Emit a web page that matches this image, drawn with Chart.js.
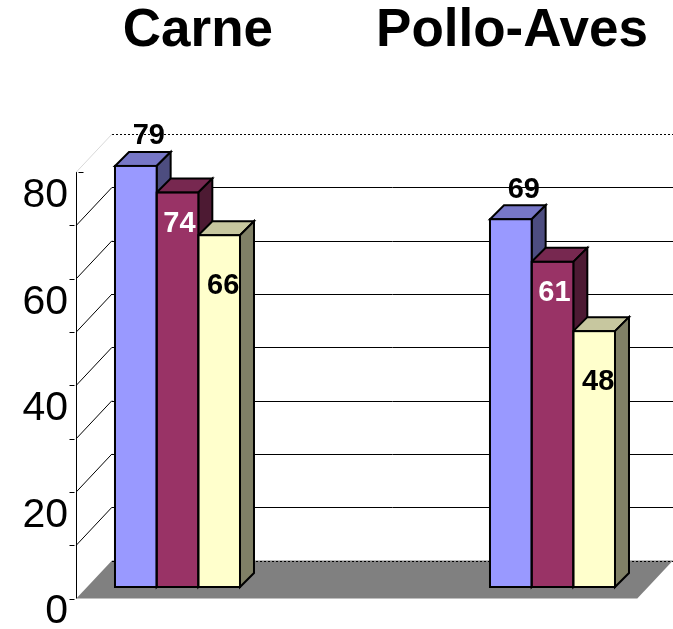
<!DOCTYPE html>
<html><head><meta charset="utf-8">
<script src="https://cdn.jsdelivr.net/npm/chart.js@4/dist/chart.umd.min.js"></script>
<style>html,body{margin:0;padding:0;background:#fff}</style>
</head><body>
<canvas id="c" width="673" height="629"></canvas>
<script>
// ---- data ----
const categories = ['Carne', 'Pollo-Aves'];
const seriesNames = ['Serie 1', 'Serie 2', 'Serie 3'];
const series1 = [79, 69];
const series2 = [74, 61];
const series3 = [66, 48];
const yMin = 0, yMax = 80, yLabelStep = 20, yGridStep = 10;

// ---- styles ----
const FONT = "'Liberation Sans', Arial, sans-serif";
const faces = [
  { front: '#9999FF', top: '#7777C7', side: '#4D4D80', label: '#000000', lx: 13, ly: -29.5 },
  { front: '#993366', top: '#772850', side: '#4D1A33', label: '#FFFFFF', lx: 2,  ly: 31 },
  { front: '#FFFFCC', top: '#C7C79F', side: '#808066', label: '#000000', lx: 4,  ly: 51 }
];
// oblique projection offsets relative to the bar front plane
const P = { fx: -10.7, fy: 11.5, bx: 25, by: -26.5, dx: 14, dy: -14 };

function poly(ctx, pts, fill) {
  ctx.beginPath();
  ctx.moveTo(pts[0][0], pts[0][1]);
  for (let i = 1; i < pts.length; i++) ctx.lineTo(pts[i][0], pts[i][1]);
  ctx.closePath();
  if (fill) { ctx.fillStyle = fill; ctx.fill(); }
  ctx.stroke();
}

const threeD = {
  id: 'threeD',
  beforeDatasetsDraw(chart) {
    const ctx = chart.ctx, y = chart.scales.y, a = chart.chartArea;
    const L = a.left, R = a.right;
    const y0 = y.getPixelForValue(yMin), yT = y.getPixelForValue(yMax);
    const ax = Math.round(L + P.fx) + 0.5;
    ctx.save();
    // floor
    ctx.fillStyle = '#808080';
    ctx.beginPath();
    ctx.moveTo(L + P.fx, y0 + P.fy);
    ctx.lineTo(R + P.fx, y0 + P.fy);
    ctx.lineTo(R + P.bx, y0 + P.by);
    ctx.lineTo(L + P.bx, y0 + P.by);
    ctx.closePath();
    ctx.fill();
    // back wall gridlines and left wall diagonals
    ctx.lineWidth = 1;
    for (let v = yMin; v <= yMax; v += yGridStep) {
      const py = y.getPixelForValue(v);
      const dotted = (v === yMin || v === yMax);
      ctx.strokeStyle = '#000';
      ctx.setLineDash(dotted ? [2, 2] : []);
      ctx.beginPath();
      ctx.moveTo(L + P.bx, Math.round(py + P.by) + 0.5);
      ctx.lineTo(R + P.bx, Math.round(py + P.by) + 0.5);
      ctx.stroke();
      ctx.setLineDash([]);
      if (v !== yMin) {
        ctx.strokeStyle = v === yMax ? '#d8d8d8' : '#000';
        ctx.beginPath();
        ctx.moveTo(L + P.fx, py + P.fy);
        ctx.lineTo(L + P.bx, py + P.by);
        ctx.stroke();
      }
      // tick mark on the front axis
      ctx.strokeStyle = '#000';
      ctx.beginPath();
      const ty = Math.round(py + P.fy) + 0.5;
      if (v === yMax) { ctx.moveTo(ax + 2, ty); ctx.lineTo(ax + 7, ty); }
      else { ctx.moveTo(ax - 7, ty); ctx.lineTo(ax - 2, ty); }
      ctx.stroke();
    }
    // front vertical axis
    ctx.strokeStyle = '#000';
    ctx.beginPath();
    ctx.moveTo(ax, yT + P.fy);
    ctx.lineTo(ax, y0 + P.fy);
    ctx.stroke();
    // bar tops and sides
    ctx.lineWidth = 2;
    ctx.lineJoin = 'miter';
    ctx.strokeStyle = '#000';
    chart.data.datasets.forEach((ds, i) => {
      const meta = chart.getDatasetMeta(i);
      meta.data.forEach(el => {
        const l = el.x - el.width / 2, r = el.x + el.width / 2, t = el.y, b = el.base;
        poly(ctx, [[l, t], [r, t], [r + P.dx, t + P.dy], [l + P.dx, t + P.dy]], faces[i].top);
        poly(ctx, [[r, t], [r + P.dx, t + P.dy], [r + P.dx, b + P.dy], [r, b]], faces[i].side);
      });
    });
    ctx.restore();
  },
  afterDatasetsDraw(chart) {
    const ctx = chart.ctx;
    ctx.save();
    ctx.lineWidth = 2;
    ctx.strokeStyle = '#000';
    chart.data.datasets.forEach((ds, i) => {
      chart.getDatasetMeta(i).data.forEach(el => {
        const l = el.x - el.width / 2;
        ctx.strokeRect(l, el.y, el.width, el.base - el.y);
      });
    });
    ctx.font = 'bold 29px ' + FONT;
    ctx.textAlign = 'center';
    ctx.textBaseline = 'middle';
    chart.data.datasets.forEach((ds, i) => {
      ctx.fillStyle = faces[i].label;
      chart.getDatasetMeta(i).data.forEach((el, j) => {
        ctx.fillText(String(ds.data[j].y), el.x + faces[i].lx, el.y + faces[i].ly);
      });
    });
    ctx.restore();
  }
};

const allSeries = [series1, series2, series3];
new Chart(document.getElementById('c'), {
  type: 'bar',
  data: {
    datasets: allSeries.map((s, i) => ({
      label: seriesNames[i],
      data: s.map((v, j) => ({ x: j, y: v })),
      backgroundColor: faces[i].front,
      borderWidth: 0,
      categoryPercentage: 1 / 3,
      barPercentage: 1
    }))
  },
  options: {
    responsive: false,
    animation: false,
    layout: { padding: { left: 0, right: 25, top: 0, bottom: 42 } },
    plugins: {
      legend: { display: false },
      tooltip: { enabled: false },
      title: {
        display: true,
        text: categories.join('       '),
        align: 'end',
        color: '#000',
        font: { family: FONT, size: 53, weight: 'bold' },
        padding: { top: 0, bottom: 97 }
      }
    },
    scales: {
      x: {
        type: 'linear', display: false, offset: false,
        min: -0.2413, max: 1.2547,
        ticks: { stepSize: 1, includeBounds: false }
      },
      y: {
        min: yMin, max: yMax,
        ticks: {
          stepSize: yLabelStep, padding: 19, labelOffset: 35, color: '#000',
          // the lowest label is lifted slightly so it stays inside the picture
          callback: (v) => v === yMin ? [String(v), ''] : String(v),
          font: (c) => ({ family: FONT, size: 41,
                          lineHeight: (c.tick && c.tick.value === yMin) ? 0.5 : 1.2 })
        },
        grid: { display: false, drawTicks: false },
        border: { display: false },
        afterFit(s) { s.width = 87; }
      }
    }
  },
  plugins: [threeD]
});
</script>
</body></html>
